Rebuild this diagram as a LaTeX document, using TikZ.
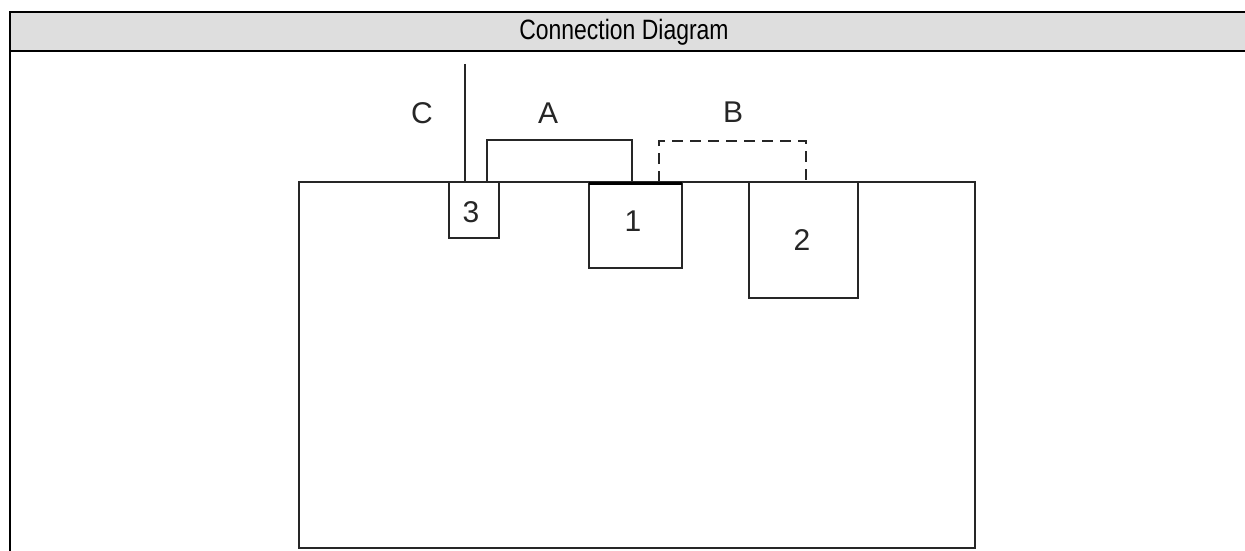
\documentclass[tikz,border=0pt]{standalone}
\usepackage{fontspec}
\setmainfont{Liberation Sans}
\usepackage{tikz}
\usetikzlibrary{positioning}
\definecolor{headgray}{HTML}{DEDEDE}
\tikzset{part/.style={draw=black!85,line width=1.8pt},
  lbl/.style={font=\fontsize{30}{36}\selectfont,inner sep=0pt,text=black!85},
  jumper/.style={draw=black!85,line width=1.8pt}}

\begin{document}
\begin{tikzpicture}[x=1pt,y=-1pt]
  \useasboundingbox (0,0) rectangle (1245,551);

  % table header
  \fill [headgray] (10,12) rectangle (1245,51);
  \draw [line width=2.2pt] (1245,12) -- (10,12) -- (10,551);
  \draw [line width=2.2pt] (10,51) -- (1245,51);
  \node (head) at (624,32) {\scalebox{0.82}[1]{\fontsize{28}{32}\selectfont Connection Diagram}};

  % board
  \draw [part] (299,182) rectangle (975,548);

  % connectors
  \draw [part,fill=white] (449,182) rectangle (499,238);
  \draw [part,fill=white] (589,183) rectangle (682,268);
  \draw [line width=3pt] (589,183) -- (682,183);
  \draw [part,fill=white] (749,182) rectangle (858,298);
  \node [lbl] (n3) at (471,212) {3};
  \node [lbl] (n1) at (633,221) {1};
  \node [lbl] (n2) at (802,240) {2};

  % wires
  \coordinate (ctop) at (465,64);
  \coordinate (cbot) at (465,182);
  \draw [jumper] (ctop) -- (cbot);
  \draw [jumper] (487,182) -- (487,140) -- (632,140) -- (632,182);
  \draw [jumper,dash pattern=on 11pt off 7pt] (659,182) -- (659,141) -- (806,141) -- (806,182);

  \node [lbl] (c) at (422,113) {C};
  \node [lbl] (a) at (548,113) {A};
  \node [lbl] (b) at (733,112) {B};

\end{tikzpicture}
\end{document}
